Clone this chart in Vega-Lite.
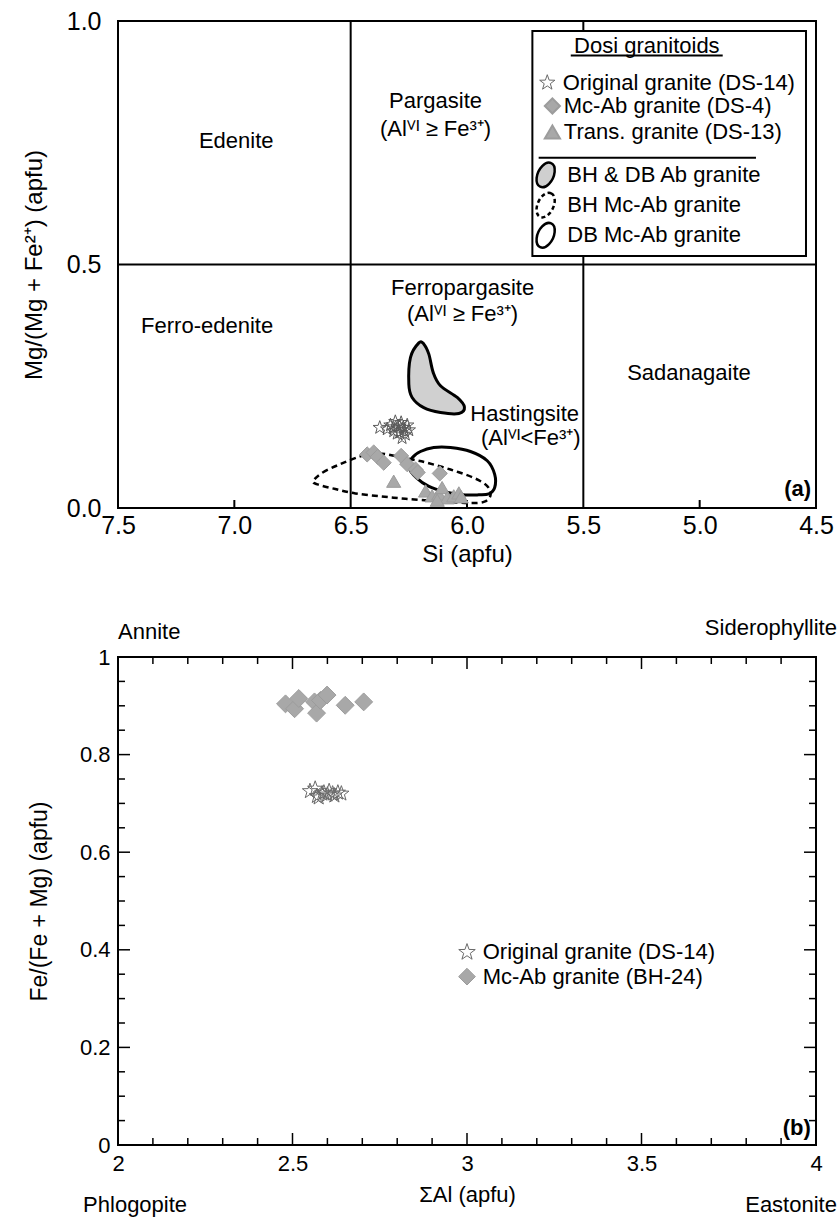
{
  "$schema": "https://vega.github.io/schema/vega-lite/v6.json",
  "background": "white",
  "padding": {"left": 21, "top": 8, "right": 0, "bottom": 0},
  "spacing": 48,
  "config": {
    "font": "Liberation Sans",
    "view": {"stroke": "black", "strokeWidth": 2},
    "axis": {"domain": false, "grid": false, "labelColor": "black", "titleColor": "black", "tickColor": "black", "labelFont": "Liberation Sans", "titleFont": "Liberation Sans", "titleFontWeight": "normal"},
    "text": {"font": "Liberation Sans", "color": "black"}
  },
  "datasets": {
    "ticksb": [
      {"x": 2.5, "y": 0, "x2": 2.5, "y2": 0.0246}, {"x": 3, "y": 0, "x2": 3, "y2": 0.0246}, {"x": 3.5, "y": 0, "x2": 3.5, "y2": 0.0246},
      {"x": 2.5, "y": 1, "x2": 2.5, "y2": 0.9754}, {"x": 3, "y": 1, "x2": 3, "y2": 0.9754}, {"x": 3.5, "y": 1, "x2": 3.5, "y2": 0.9754},
      {"x": 2.1, "y": 0, "x2": 2.1, "y2": 0.0143}, {"x": 2.2, "y": 0, "x2": 2.2, "y2": 0.0143}, {"x": 2.3, "y": 0, "x2": 2.3, "y2": 0.0143}, {"x": 2.4, "y": 0, "x2": 2.4, "y2": 0.0143},
      {"x": 2.6, "y": 0, "x2": 2.6, "y2": 0.0143}, {"x": 2.7, "y": 0, "x2": 2.7, "y2": 0.0143}, {"x": 2.8, "y": 0, "x2": 2.8, "y2": 0.0143}, {"x": 2.9, "y": 0, "x2": 2.9, "y2": 0.0143},
      {"x": 3.1, "y": 0, "x2": 3.1, "y2": 0.0143}, {"x": 3.2, "y": 0, "x2": 3.2, "y2": 0.0143}, {"x": 3.3, "y": 0, "x2": 3.3, "y2": 0.0143}, {"x": 3.4, "y": 0, "x2": 3.4, "y2": 0.0143},
      {"x": 3.6, "y": 0, "x2": 3.6, "y2": 0.0143}, {"x": 3.7, "y": 0, "x2": 3.7, "y2": 0.0143}, {"x": 3.8, "y": 0, "x2": 3.8, "y2": 0.0143}, {"x": 3.9, "y": 0, "x2": 3.9, "y2": 0.0143},
      {"x": 2.1, "y": 1, "x2": 2.1, "y2": 0.9857}, {"x": 2.2, "y": 1, "x2": 2.2, "y2": 0.9857}, {"x": 2.3, "y": 1, "x2": 2.3, "y2": 0.9857}, {"x": 2.4, "y": 1, "x2": 2.4, "y2": 0.9857},
      {"x": 2.6, "y": 1, "x2": 2.6, "y2": 0.9857}, {"x": 2.7, "y": 1, "x2": 2.7, "y2": 0.9857}, {"x": 2.8, "y": 1, "x2": 2.8, "y2": 0.9857}, {"x": 2.9, "y": 1, "x2": 2.9, "y2": 0.9857},
      {"x": 3.1, "y": 1, "x2": 3.1, "y2": 0.9857}, {"x": 3.2, "y": 1, "x2": 3.2, "y2": 0.9857}, {"x": 3.3, "y": 1, "x2": 3.3, "y2": 0.9857}, {"x": 3.4, "y": 1, "x2": 3.4, "y2": 0.9857},
      {"x": 3.6, "y": 1, "x2": 3.6, "y2": 0.9857}, {"x": 3.7, "y": 1, "x2": 3.7, "y2": 0.9857}, {"x": 3.8, "y": 1, "x2": 3.8, "y2": 0.9857}, {"x": 3.9, "y": 1, "x2": 3.9, "y2": 0.9857},
      {"x": 2, "y": 0.2, "x2": 2.0344, "y2": 0.2}, {"x": 2, "y": 0.4, "x2": 2.0344, "y2": 0.4}, {"x": 2, "y": 0.6, "x2": 2.0344, "y2": 0.6}, {"x": 2, "y": 0.8, "x2": 2.0344, "y2": 0.8},
      {"x": 4, "y": 0.2, "x2": 3.9656, "y2": 0.2}, {"x": 4, "y": 0.4, "x2": 3.9656, "y2": 0.4}, {"x": 4, "y": 0.6, "x2": 3.9656, "y2": 0.6}, {"x": 4, "y": 0.8, "x2": 3.9656, "y2": 0.8},
      {"x": 2, "y": 0.05, "x2": 2.02, "y2": 0.05}, {"x": 2, "y": 0.1, "x2": 2.02, "y2": 0.1}, {"x": 2, "y": 0.15, "x2": 2.02, "y2": 0.15},
      {"x": 2, "y": 0.25, "x2": 2.02, "y2": 0.25}, {"x": 2, "y": 0.3, "x2": 2.02, "y2": 0.3}, {"x": 2, "y": 0.35, "x2": 2.02, "y2": 0.35},
      {"x": 2, "y": 0.45, "x2": 2.02, "y2": 0.45}, {"x": 2, "y": 0.5, "x2": 2.02, "y2": 0.5}, {"x": 2, "y": 0.55, "x2": 2.02, "y2": 0.55},
      {"x": 2, "y": 0.65, "x2": 2.02, "y2": 0.65}, {"x": 2, "y": 0.7, "x2": 2.02, "y2": 0.7}, {"x": 2, "y": 0.75, "x2": 2.02, "y2": 0.75},
      {"x": 2, "y": 0.85, "x2": 2.02, "y2": 0.85}, {"x": 2, "y": 0.9, "x2": 2.02, "y2": 0.9}, {"x": 2, "y": 0.95, "x2": 2.02, "y2": 0.95},
      {"x": 4, "y": 0.05, "x2": 3.98, "y2": 0.05}, {"x": 4, "y": 0.1, "x2": 3.98, "y2": 0.1}, {"x": 4, "y": 0.15, "x2": 3.98, "y2": 0.15},
      {"x": 4, "y": 0.25, "x2": 3.98, "y2": 0.25}, {"x": 4, "y": 0.3, "x2": 3.98, "y2": 0.3}, {"x": 4, "y": 0.35, "x2": 3.98, "y2": 0.35},
      {"x": 4, "y": 0.45, "x2": 3.98, "y2": 0.45}, {"x": 4, "y": 0.5, "x2": 3.98, "y2": 0.5}, {"x": 4, "y": 0.55, "x2": 3.98, "y2": 0.55},
      {"x": 4, "y": 0.65, "x2": 3.98, "y2": 0.65}, {"x": 4, "y": 0.7, "x2": 3.98, "y2": 0.7}, {"x": 4, "y": 0.75, "x2": 3.98, "y2": 0.75},
      {"x": 4, "y": 0.85, "x2": 3.98, "y2": 0.85}, {"x": 4, "y": 0.9, "x2": 3.98, "y2": 0.9}, {"x": 4, "y": 0.95, "x2": 3.98, "y2": 0.95}
    ]
  },
  "vconcat": [
    {
      "width": 698,
      "height": 487,
      "encoding": {
        "x": {"field": "x", "type": "quantitative",
          "scale": {"domain": [4.5, 7.5], "reverse": true, "nice": false, "zero": false},
          "axis": {"values": [7.5, 7, 6.5, 6, 5.5, 5, 4.5], "format": ".1f", "labelFontSize": 25, "ticks": false, "labelPadding": 5, "title": "Si (apfu)", "titleFontSize": 24, "titlePadding": 4, "labelFlush": false, "labelOverlap": false, "labelBound": false}},
        "y": {"field": "y", "type": "quantitative",
          "scale": {"domain": [0, 1], "nice": false, "zero": false},
          "axis": {"values": [0, 0.5, 1], "format": ".1f", "labelFontSize": 25, "ticks": false, "labelPadding": 17, "title": "Mg/(Mg + Fe²⁺) (apfu)", "titleFontSize": 24, "titlePadding": 20, "labelFlush": false, "labelOverlap": false}}
      },
      "layer": [
        {
          "data": {"values": [
            {"x": 6.5, "y": 0, "x2": 6.5, "y2": 1},
            {"x": 5.5, "y": 0, "x2": 5.5, "y2": 1},
            {"x": 7.5, "y": 0.5, "x2": 4.5, "y2": 0.5}
          ]},
          "mark": {"type": "rule", "stroke": "black", "strokeWidth": 2},
          "encoding": {"x2": {"field": "x2"}, "y2": {"field": "y2"}}
        },
        {
          "data": {"values": [
            {"x": 7, "y": 0, "x2": 7, "y2": 0.0164},
            {"x": 6, "y": 0, "x2": 6, "y2": 0.0164},
            {"x": 5, "y": 0, "x2": 5, "y2": 0.0164}
          ]},
          "mark": {"type": "rule", "stroke": "black", "strokeWidth": 2},
          "encoding": {"x2": {"field": "x2"}, "y2": {"field": "y2"}}
        },
        {
          "data": {"values": [{"x": 5.719, "x2": 4.543, "y": 0.5175, "y2": 0.9795}]},
          "mark": {"type": "rect", "fill": "white", "stroke": "black", "strokeWidth": 2},
          "encoding": {"x2": {"field": "x2"}, "y2": {"field": "y2"}}
        },
        {
          "data": {"values": [
            {"i": 1, "x": 6.207, "y": 0.339}, {"i": 2, "x": 6.243, "y": 0.309}, {"i": 3, "x": 6.25, "y": 0.254},
            {"i": 4, "x": 6.236, "y": 0.227}, {"i": 5, "x": 6.186, "y": 0.206}, {"i": 6, "x": 6.114, "y": 0.196},
            {"i": 7, "x": 6.035, "y": 0.194}, {"i": 8, "x": 6.011, "y": 0.207}, {"i": 9, "x": 6.042, "y": 0.227},
            {"i": 10, "x": 6.114, "y": 0.251}, {"i": 11, "x": 6.145, "y": 0.278}, {"i": 12, "x": 6.164, "y": 0.316},
            {"i": 13, "x": 6.186, "y": 0.337}
          ]},
          "mark": {"type": "line", "interpolate": "cardinal-closed", "fill": "#d0d0d0", "stroke": "black", "strokeWidth": 3},
          "encoding": {"order": {"field": "i", "type": "quantitative"}}
        },
        {
          "data": {"values": [
            {"i": 1, "x": 6.661, "y": 0.055}, {"i": 2, "x": 6.62, "y": 0.073}, {"i": 3, "x": 6.545, "y": 0.09},
            {"i": 4, "x": 6.458, "y": 0.106}, {"i": 5, "x": 6.38, "y": 0.112}, {"i": 6, "x": 6.3, "y": 0.106},
            {"i": 7, "x": 6.23, "y": 0.099}, {"i": 8, "x": 6.172, "y": 0.093}, {"i": 9, "x": 6.071, "y": 0.079},
            {"i": 10, "x": 5.971, "y": 0.062}, {"i": 11, "x": 5.913, "y": 0.045}, {"i": 12, "x": 5.899, "y": 0.026},
            {"i": 13, "x": 5.925, "y": 0.013}, {"i": 14, "x": 5.985, "y": 0.01}, {"i": 15, "x": 6.071, "y": 0.012},
            {"i": 16, "x": 6.157, "y": 0.015}, {"i": 17, "x": 6.265, "y": 0.019}, {"i": 18, "x": 6.372, "y": 0.024},
            {"i": 19, "x": 6.48, "y": 0.03}, {"i": 20, "x": 6.566, "y": 0.039}, {"i": 21, "x": 6.639, "y": 0.048}
          ]},
          "mark": {"type": "line", "interpolate": "cardinal-closed", "stroke": "black", "strokeWidth": 2.5, "strokeDash": [6, 4]},
          "encoding": {"order": {"field": "i", "type": "quantitative"}}
        },
        {
          "data": {"values": [
            {"i": 1, "x": 6.25, "y": 0.083}, {"i": 2, "x": 6.236, "y": 0.103}, {"i": 3, "x": 6.2, "y": 0.116},
            {"i": 4, "x": 6.143, "y": 0.124}, {"i": 5, "x": 6.071, "y": 0.124}, {"i": 6, "x": 5.985, "y": 0.116},
            {"i": 7, "x": 5.913, "y": 0.097}, {"i": 8, "x": 5.881, "y": 0.069}, {"i": 9, "x": 5.881, "y": 0.042},
            {"i": 10, "x": 5.906, "y": 0.029}, {"i": 11, "x": 5.95, "y": 0.027}, {"i": 12, "x": 6.019, "y": 0.027},
            {"i": 13, "x": 6.092, "y": 0.033}, {"i": 14, "x": 6.166, "y": 0.045}, {"i": 15, "x": 6.217, "y": 0.062}
          ]},
          "mark": {"type": "line", "interpolate": "cardinal-closed", "stroke": "black", "strokeWidth": 3},
          "encoding": {"order": {"field": "i", "type": "quantitative"}}
        },
        {
          "data": {"values": [
            {"x": 6.315, "y": 0.055}, {"x": 6.178, "y": 0.035}, {"x": 6.15, "y": 0.025}, {"x": 6.121, "y": 0.029},
            {"x": 6.107, "y": 0.042}, {"x": 6.085, "y": 0.021}, {"x": 6.057, "y": 0.025}, {"x": 6.035, "y": 0.031},
            {"x": 6.025, "y": 0.023}, {"x": 6.128, "y": 0.016}
          ]},
          "mark": {"type": "point", "shape": "triangle-up", "filled": true, "fill": "#a8a8a8", "stroke": "#9c9c9c", "strokeWidth": 1, "opacity": 1, "size": 200}
        },
        {
          "data": {"values": [
            {"x": 6.429, "y": 0.11}, {"x": 6.401, "y": 0.114}, {"x": 6.384, "y": 0.105}, {"x": 6.358, "y": 0.093},
            {"x": 6.283, "y": 0.107}, {"x": 6.257, "y": 0.09}, {"x": 6.221, "y": 0.079}, {"x": 6.212, "y": 0.073},
            {"x": 6.117, "y": 0.071}
          ]},
          "mark": {"type": "point", "shape": "diamond", "filled": true, "fill": "#a8a8a8", "stroke": "#9c9c9c", "strokeWidth": 1, "opacity": 1, "size": 230}
        },
        {
          "data": {"values": [
            {"x": 6.375, "y": 0.165}, {"x": 6.343, "y": 0.162}, {"x": 6.329, "y": 0.17}, {"x": 6.315, "y": 0.158},
            {"x": 6.308, "y": 0.177}, {"x": 6.298, "y": 0.166}, {"x": 6.289, "y": 0.155}, {"x": 6.283, "y": 0.175},
            {"x": 6.274, "y": 0.165}, {"x": 6.265, "y": 0.151}, {"x": 6.257, "y": 0.17}, {"x": 6.25, "y": 0.16},
            {"x": 6.3, "y": 0.153}, {"x": 6.317, "y": 0.166}, {"x": 6.279, "y": 0.144}, {"x": 6.29, "y": 0.168},
            {"x": 6.27, "y": 0.16}
          ]},
          "mark": {"type": "point", "shape": "M0,-1L0.2351,-0.3236L0.9511,-0.309L0.3804,0.1236L0.5878,0.809L0,0.4L-0.5878,0.809L-0.3804,0.1236L-0.9511,-0.309L-0.2351,-0.3236Z", "filled": false, "stroke": "#5a5a5a", "strokeWidth": 1, "opacity": 1, "size": 196}
        },
        {
          "data": {"values": [
            {"x": 6.992, "y": 0.754, "t": "Edenite"},
            {"x": 6.135, "y": 0.836, "t": "Pargasite"},
            {"x": 6.135, "y": 0.778, "t": "(Alⱽᴵ ≥ Fe³⁺)"},
            {"x": 7.117, "y": 0.374, "t": "Ferro-edenite"},
            {"x": 6.019, "y": 0.452, "t": "Ferropargasite"},
            {"x": 6.019, "y": 0.398, "t": "(Alⱽᴵ ≥ Fe³⁺)"},
            {"x": 5.046, "y": 0.277, "t": "Sadanagaite"},
            {"x": 5.752, "y": 0.193, "t": "Hastingsite"},
            {"x": 5.726, "y": 0.144, "t": "(Alⱽᴵ<Fe³⁺)"}
          ]},
          "mark": {"type": "text", "fontSize": 22, "align": "center", "baseline": "middle"},
          "encoding": {"text": {"field": "t"}}
        },
        {
          "data": {"values": [{"x": 4.521, "y": 0.04, "t": "(a)"}]},
          "mark": {"type": "text", "fontSize": 22, "fontWeight": "bold", "align": "right", "baseline": "middle"},
          "encoding": {"text": {"field": "t"}}
        },
        {
          "data": {"values": [{"x": 5.227, "y": 0.9487, "t": "Dosi granitoids"}]},
          "mark": {"type": "text", "fontSize": 22, "align": "center", "baseline": "middle"},
          "encoding": {"text": {"field": "t"}}
        },
        {
          "data": {"values": [
            {"x": 5.554, "y": 0.929, "x2": 4.901, "y2": 0.929},
            {"x": 5.692, "y": 0.7193, "x2": 4.758, "y2": 0.7193}
          ]},
          "mark": {"type": "rule", "stroke": "black", "strokeWidth": 2},
          "encoding": {"x2": {"field": "x2"}, "y2": {"field": "y2"}}
        },
        {
          "data": {"values": [{"x": 5.655, "y": 0.8733}]},
          "mark": {"type": "point", "shape": "M0,-1L0.2351,-0.3236L0.9511,-0.309L0.3804,0.1236L0.5878,0.809L0,0.4L-0.5878,0.809L-0.3804,0.1236L-0.9511,-0.309L-0.2351,-0.3236Z", "filled": false, "stroke": "#6a6a6a", "strokeWidth": 1, "opacity": 1, "size": 256}
        },
        {
          "data": {"values": [{"x": 5.633, "y": 0.8255}]},
          "mark": {"type": "point", "shape": "diamond", "filled": true, "fill": "#a8a8a8", "stroke": "#9c9c9c", "opacity": 1, "size": 230}
        },
        {
          "data": {"values": [{"x": 5.633, "y": 0.772}]},
          "mark": {"type": "point", "shape": "triangle-up", "filled": true, "fill": "#a8a8a8", "stroke": "#9c9c9c", "opacity": 1, "size": 230}
        },
        {
          "data": {"values": [{"x": 5.662, "y": 0.684}]},
          "mark": {"type": "point", "shape": "M0.423,-0.906A0.6,1,25,1,1,-0.423,0.906A0.6,1,25,1,1,0.423,-0.906Z", "filled": true, "fill": "#cfcfcf", "stroke": "black", "strokeWidth": 2.5, "opacity": 1, "size": 680}
        },
        {
          "data": {"values": [{"x": 5.662, "y": 0.622}]},
          "mark": {"type": "point", "shape": "M0.423,-0.906A0.6,1,25,1,1,-0.423,0.906A0.6,1,25,1,1,0.423,-0.906Z", "filled": false, "stroke": "black", "strokeWidth": 2.5, "strokeDash": [4, 3], "opacity": 1, "size": 680}
        },
        {
          "data": {"values": [{"x": 5.662, "y": 0.56}]},
          "mark": {"type": "point", "shape": "M0.423,-0.906A0.6,1,25,1,1,-0.423,0.906A0.6,1,25,1,1,0.423,-0.906Z", "filled": false, "stroke": "black", "strokeWidth": 2.5, "opacity": 1, "size": 680}
        },
        {
          "data": {"values": [
            {"x": 5.589, "y": 0.8733, "t": "Original granite (DS-14)"},
            {"x": 5.584, "y": 0.8255, "t": "Mc-Ab granite (DS-4)"},
            {"x": 5.584, "y": 0.772, "t": "Trans. granite (DS-13)"},
            {"x": 5.569, "y": 0.684, "t": "BH & DB Ab granite"},
            {"x": 5.569, "y": 0.622, "t": "BH Mc-Ab granite"},
            {"x": 5.569, "y": 0.56, "t": "DB Mc-Ab granite"}
          ]},
          "mark": {"type": "text", "fontSize": 22, "align": "left", "baseline": "middle"},
          "encoding": {"text": {"field": "t"}}
        }
      ]
    },
    {
      "width": 698,
      "height": 488,
      "encoding": {
        "x": {"field": "x", "type": "quantitative", "scale": {"domain": [2, 4], "nice": false, "zero": false},
          "axis": {"values": [2, 2.5, 3, 3.5, 4], "format": "~g",
            "ticks": false, "labelFontSize": 22, "labelPadding": 8, "labelFlush": false, "labelOverlap": false, "labelBound": false,
            "title": "ΣAl (apfu)", "titleFontSize": 22, "titlePadding": 10}},
        "y": {"field": "y", "type": "quantitative", "scale": {"domain": [0, 1], "nice": false, "zero": false},
          "axis": {"values": [0, 0.2, 0.4, 0.6, 0.8, 1], "format": "~g",
            "ticks": false, "labelFontSize": 22, "labelPadding": 8, "labelFlush": false, "labelOverlap": false, "labelBound": false,
            "title": "Fe/(Fe + Mg) (apfu)", "titleFontSize": 23, "titlePadding": 28}}
      },
      "layer": [
        {
          "data": {"name": "ticksb"},
          "mark": {"type": "rule", "stroke": "black", "strokeWidth": 1.5},
          "encoding": {"x2": {"field": "x2"}, "y2": {"field": "y2"}}
        },
        {
          "data": {"values": [
            {"x": 2.55, "y": 0.725}, {"x": 2.565, "y": 0.73}, {"x": 2.57, "y": 0.715}, {"x": 2.585, "y": 0.72},
            {"x": 2.59, "y": 0.722}, {"x": 2.6, "y": 0.718}, {"x": 2.605, "y": 0.725}, {"x": 2.615, "y": 0.72},
            {"x": 2.62, "y": 0.716}, {"x": 2.63, "y": 0.722}, {"x": 2.64, "y": 0.72}, {"x": 2.575, "y": 0.712}
          ]},
          "mark": {"type": "point", "shape": "M0,-1L0.2351,-0.3236L0.9511,-0.309L0.3804,0.1236L0.5878,0.809L0,0.4L-0.5878,0.809L-0.3804,0.1236L-0.9511,-0.309L-0.2351,-0.3236Z", "filled": false, "stroke": "#6a6a6a", "strokeWidth": 1, "opacity": 1, "size": 256}
        },
        {
          "data": {"values": [
            {"x": 2.48, "y": 0.904}, {"x": 2.506, "y": 0.894}, {"x": 2.518, "y": 0.915}, {"x": 2.563, "y": 0.908},
            {"x": 2.569, "y": 0.885}, {"x": 2.58, "y": 0.911}, {"x": 2.599, "y": 0.922}, {"x": 2.651, "y": 0.901},
            {"x": 2.704, "y": 0.908}
          ]},
          "mark": {"type": "point", "shape": "diamond", "filled": true, "fill": "#a8a8a8", "stroke": "#9c9c9c", "strokeWidth": 1, "opacity": 1, "size": 320}
        },
        {
          "data": {"values": [{"x": 3.0, "y": 0.395}]},
          "mark": {"type": "point", "shape": "M0,-1L0.2351,-0.3236L0.9511,-0.309L0.3804,0.1236L0.5878,0.809L0,0.4L-0.5878,0.809L-0.3804,0.1236L-0.9511,-0.309L-0.2351,-0.3236Z", "filled": false, "stroke": "#6a6a6a", "strokeWidth": 1, "opacity": 1, "size": 300}
        },
        {
          "data": {"values": [{"x": 3.0, "y": 0.345}]},
          "mark": {"type": "point", "shape": "diamond", "filled": true, "fill": "#a8a8a8", "stroke": "#9c9c9c", "strokeWidth": 1, "opacity": 1, "size": 280}
        },
        {
          "data": {"values": [
            {"x": 3.045, "y": 0.395, "t": "Original granite (DS-14)"},
            {"x": 3.045, "y": 0.345, "t": "Mc-Ab granite (BH-24)"}
          ]},
          "mark": {"type": "text", "fontSize": 22, "align": "left", "baseline": "middle"},
          "encoding": {"text": {"field": "t"}}
        },
        {
          "data": {"values": [
            {"x": 2.0, "y": 1.051, "t": "Annite"},
            {"x": 1.9, "y": -0.123, "t": "Phlogopite"}
          ]},
          "mark": {"type": "text", "fontSize": 22, "align": "left", "baseline": "middle"},
          "encoding": {"text": {"field": "t"}}
        },
        {
          "data": {"values": [
            {"x": 4.06, "y": 1.06, "t": "Siderophyllite"},
            {"x": 4.06, "y": -0.123, "t": "Eastonite"}
          ]},
          "mark": {"type": "text", "fontSize": 22, "align": "right", "baseline": "middle"},
          "encoding": {"text": {"field": "t"}}
        },
        {
          "data": {"values": [{"x": 3.985, "y": 0.035, "t": "(b)"}]},
          "mark": {"type": "text", "fontSize": 22, "fontWeight": "bold", "align": "right", "baseline": "middle"},
          "encoding": {"text": {"field": "t"}}
        }
      ]
    }
  ]
}
